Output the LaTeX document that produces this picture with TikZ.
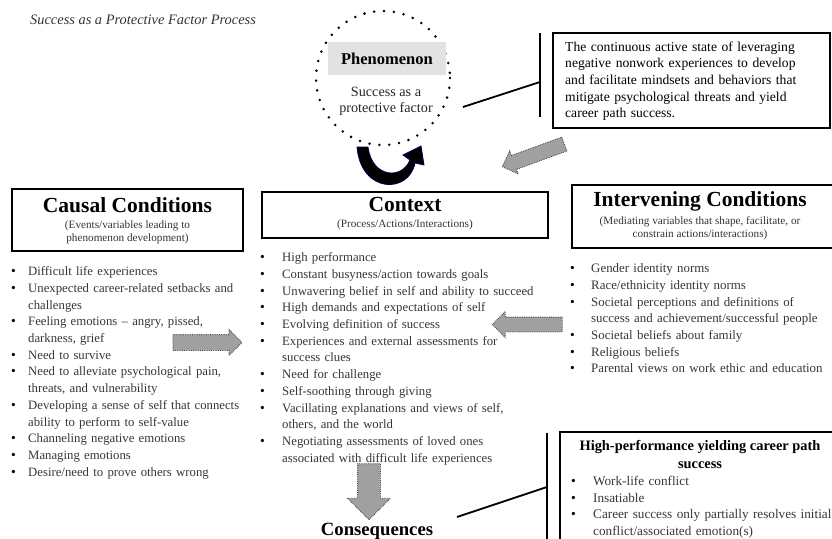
\documentclass[tikz,border=0pt]{standalone}
\usepackage{fontspec}
\setmainfont{Liberation Serif}
\usetikzlibrary{shapes.arrows, positioning}
\tikzset{>=stealth}

\definecolor{boltgray}{HTML}{A0A0A0}
\definecolor{listgray}{HTML}{363636}
\definecolor{phengray}{HTML}{E2E2E2}

\newcommand\bodyfont{\fontsize{12.75}{16.7}\selectfont}
\newcommand\headfont{\fontsize{21.5}{24}\selectfont\bfseries}
\newcommand\subfont{\fontsize{11.2}{13}\selectfont}
\newlength\bulletw
\newcommand\nl{\hfil\break}
\newcommand\bi[1]{\par\hangindent=\bulletw\hangafter=1\noindent
  \makebox[\bulletw][l]{\color{black}\fontsize{13.5}{13.5}\selectfont\textbullet}#1}

\tikzset{
  headbox/.style={draw, line width=2.4pt, inner sep=0pt},
  itemlist/.style={anchor=north west, inner sep=0pt, text width=#1, font=\bodyfont, text=listgray},
  bolt/.style 2 args={single arrow, fill=boltgray, draw=black!75, densely dotted, line width=0.8pt,
    inner xsep=0pt, inner ysep=#1, single arrow head extend=#2},
  bar/.style={line width=1.8pt},
}

\begin{document}
\begin{tikzpicture}[x=1pt, y=-1pt]
  \useasboundingbox (0,0) rectangle (832,538);

  \node[anchor=base west, font=\fontsize{14.4}{16}\selectfont\itshape, text=black!80, inner sep=0pt]
    (title) at (30,24) {Success as a Protective Factor Process};

  % phenomenon in its dotted ring
  \draw[line width=2.8pt, dash pattern=on 0pt off 9.9pt, line cap=round] (383,78) circle (67);
  \node[fill=phengray, minimum width=118pt, minimum height=33pt, inner sep=0pt,
    font=\fontsize{16.5}{18}\selectfont\bfseries] (phen) at (387,58.5) {Phenomenon};
  \node[align=center, font=\fontsize{14.2}{16.5}\selectfont, text=black!85, inner sep=0pt] (phentext)
    at (386,101.5) {Success as a\\protective factor};

  % curved arrow under the ring
  \filldraw[fill=black, draw=blue!35!black, line width=0.8pt]
    (357,147) .. controls (361,194) and (409,194) .. (415,163)
    -- (424,165) -- (421,146) -- (403,155) -- (410,160)
    .. controls (402,180) and (372,178) .. (368,147) -- cycle;

  % definition box
  \node[headbox, minimum width=277pt, minimum height=95pt] (descr) at (691.5,80.5) {};
  \node[itemlist=264pt, text=black, font=\fontsize{13.6}{16.7}\selectfont] (descrtext) at (565,39.3)
    {\strut The continuous active state of leveraging\nl negative nonwork experiences to develop\nl
     and facilitate mindsets and behaviors that\nl mitigate psychological threats and yield\nl
     career path success.\par};
  \coordinate (dbartop) at (540,33);
  \coordinate (dbarbot) at (540,117);
  \coordinate (dbarmid) at (540,82);
  \coordinate (phenout) at (463,107);
  \draw[bar] (dbartop) -- (dbarbot);
  \draw[bar] (phenout) -- (dbarmid);

  \node[bolt={7pt}{5pt}, minimum height=66pt, rotate=200] (boltdescr) at (536.8,154.1) {};

  % the three headed boxes
  \node[headbox, minimum width=231pt, minimum height=62pt] (causal) at (127.5,220) {};
  \node[font=\headfont, inner sep=0pt] (causalhead) at (127.5,205) {Causal Conditions};
  \node[font=\subfont, align=center, inner sep=0pt, text=black!80] (causalsub) at (127.5,232)
    {(Events/variables leading to\\phenomenon development)};

  \node[headbox, minimum width=286pt, minimum height=46pt] (context) at (405,215) {};
  \node[font=\headfont, inner sep=0pt] (contexthead) at (405,204) {Context};
  \node[font=\subfont, inner sep=0pt, text=black!80] (contextsub) at (405,225) {(Process/Actions/Interactions)};

  \node[headbox, minimum width=262pt, minimum height=63pt] (interv) at (703,216.5) {};
  \node[font=\headfont, inner sep=0pt] (intervhead) at (700,201) {Intervening Conditions};
  \node[font=\subfont, align=center, inner sep=0pt, text=black!80] (intervsub) at (700,228.5)
    {(Mediating variables that shape, facilitate, or\\constrain actions/interactions)};

  % bullet lists
  \node[itemlist=262pt] (causallist) at (11,258.8) {\setlength\bulletw{17pt}%
    \bi{\strut Difficult life experiences}
    \bi{Unexpected career-related setbacks and\nl challenges}
    \bi{Feeling emotions -- angry, pissed,\nl darkness, grief}
    \bi{Need to survive}
    \bi{Need to alleviate psychological pain,\nl threats, and vulnerability}
    \bi{Developing a sense of self that connects\nl ability to perform to self-value}
    \bi{Channeling negative emotions}
    \bi{Managing emotions}
    \bi{Desire/need to prove others wrong}\par};

  \node[itemlist=300pt] (contextlist) at (260,244.8) {\setlength\bulletw{22pt}%
    \bi{\strut High performance}
    \bi{Constant busyness/action towards goals}
    \bi{Unwavering belief in self and ability to succeed}
    \bi{High demands and expectations of self}
    \bi{Evolving definition of success}
    \bi{Experiences and external assessments for\nl success clues}
    \bi{Need for challenge}
    \bi{Self-soothing through giving}
    \bi{Vacillating explanations and views of self,\nl others, and the world}
    \bi{Negotiating assessments of loved ones\nl associated with difficult life experiences}\par};

  \node[itemlist=270pt, font=\fontsize{12.9}{16.7}\selectfont] (intervlist) at (570,255.8) {\setlength\bulletw{21pt}%
    \bi{\strut Gender identity norms}
    \bi{Race/ethnicity identity norms}
    \bi{Societal perceptions and definitions of\nl success and achievement/successful people}
    \bi{Societal beliefs about family}
    \bi{Religious beliefs}
    \bi{Parental views on work ethic and education}\par};

  % gray arrows into the context
  \node[bolt={7.5pt}{5pt}, minimum height=69pt] (boltcausal) at (203.5,342.5) {};
  \node[bolt={7pt}{5.5pt}, minimum height=70pt, rotate=180] (boltinterv) at (531,324.5) {};
  \node[bolt={11pt}{10pt}, minimum height=56pt, rotate=-90] (boltcons) at (369,486) {};

  % consequences
  \node[anchor=base, font=\fontsize{18.7}{20}\selectfont\bfseries, inner sep=0pt] (cons) at (377,535) {Consequences};
  \node[headbox, minimum width=275pt, minimum height=140pt] (consbox) at (697.5,502) {};
  \node[align=center, inner sep=0pt, font=\fontsize{14.4}{18}\selectfont\bfseries] (conshead) at (700,455)
    {High-performance yielding career path\\success};
  \node[itemlist=262pt, font=\fontsize{13.2}{16.7}\selectfont] (conslist) at (571,468.5) {\setlength\bulletw{22pt}%
    \bi{\strut Work-life conflict}
    \bi{Insatiable}
    \bi{Career success only partially resolves initial\nl conflict/associated emotion(s)}\par};
  \coordinate (cbartop) at (547,433);
  \coordinate (cbarbot) at (547,545);
  \coordinate (cbarmid) at (547,487);
  \coordinate (consout) at (457,517);
  \draw[bar] (cbartop) -- (cbarbot);
  \draw[bar] (consout) -- (cbarmid);
\end{tikzpicture}
\end{document}
